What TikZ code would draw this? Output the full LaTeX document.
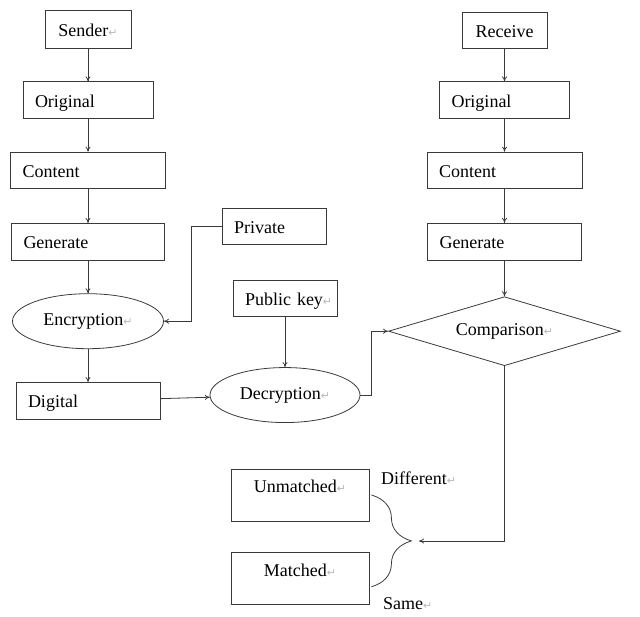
\documentclass[tikz,border=0pt]{standalone}
\usepackage{fontspec}
\setmainfont{Liberation Serif}
\newfontfamily\markfont{DejaVu Sans}
\usetikzlibrary{arrows.meta,positioning,shapes.geometric,decorations.pathreplacing}
\definecolor{ink}{HTML}{3A3A3A}
\newcommand{\pmark}{{\markfont\fontsize{11}{11}\selectfont\color{gray!55}↵}}

\begin{document}
\begin{tikzpicture}[x=1pt, y=1pt,
    font=\fontsize{18}{21}\selectfont,
    box/.style={draw=ink, line width=0.8pt, minimum height=36.5pt, inner xsep=12pt, inner ysep=0pt, text height=14pt, text depth=0pt, align=left},
    oval/.style={draw=ink, line width=0.8pt, ellipse, minimum width=151pt, minimum height=55pt, inner sep=0pt},
    lbl/.style={inner sep=0pt, anchor=west},
    arrow/.style={-{To[length=5pt,width=5pt]}, line width=0.8pt, color=ink},
    brace/.style={decorate, decoration={brace, amplitude=40pt}, line width=0.8pt, color=ink}
]
    \useasboundingbox (0,0) rectangle (640,-616);

    \node[box, minimum width=86pt, minimum height=38pt, inner xsep=4pt, align=center] (snd) at (88,-29) {Sender\pmark};
    \node[box, text width=106pt, below=33pt of snd] (org) {Original};
    \node[box, text width=131pt, below=33pt of org] (cnt) {Content};
    \node[box, text width=129pt, below=34pt of cnt] (gen) {Generate};
    \node[oval, below=33pt of gen] (enc) {Encryption\pmark};
    \node[box, text width=120pt, below=33pt of enc] (dig) {Digital};

    \node[box, text width=80pt] (prv) at (274,-226.5) {Private};
    \node[box, text width=80pt] (pub) at (285,-298.5) {Public~key\pmark};
    \node[oval, minimum width=150pt, below=50pt of pub] (dec) {Decryption\pmark};

    \node[box, minimum width=85pt, minimum height=36pt, inner xsep=4pt, align=center] (rcv) at (504.5,-30) {Receive};
    \node[box, text width=106pt, below=33pt of rcv] (org2) {Original};
    \node[box, text width=131pt, below=33pt of org2] (cnt2) {Content};
    \node[box, text width=130pt, below=34pt of cnt2] (gen2) {Generate};
    \node[draw=ink, line width=0.8pt, diamond, aspect=3.36, minimum width=232pt, minimum height=69pt, inner sep=0pt, below=36pt of gen2] (cmp) {Comparison\pmark};

    \node[box, text width=114pt, align=center, minimum height=52pt, text depth=20pt] (um) at (300,-495) {Unmatched\pmark};
    \node[box, text width=114pt, align=center, minimum height=52pt, text depth=19pt, below=31pt of um] (mt) {Matched\pmark};
    \node[lbl] (dif) at (381,-478) {Different\pmark};
    \node[lbl] (sam) at (383,-604) {Same\pmark};
    \coordinate (tip) at (419,-541);

    \draw[arrow] (snd) -- (org);
    \draw[arrow] (org) -- (cnt);
    \draw[arrow] (cnt) -- (gen);
    \draw[arrow] (gen) -- (enc);
    \draw[arrow] (enc) -- (dig);
    \draw[arrow] (prv.west) -- ++(-30pt,0) |- (enc.east);
    \draw[arrow] (pub) -- (dec);
    \draw[arrow] (dig) -- (dec);
    \draw[arrow] (dec.east) -- ++(11pt,0) |- (cmp.west);

    \draw[arrow] (rcv) -- (org2);
    \draw[arrow] (org2) -- (cnt2);
    \draw[arrow] (cnt2) -- (gen2);
    \draw[arrow] (gen2) -- (cmp);
    \draw[arrow] (cmp.south) |- (tip);
    \draw[brace] ([xshift=2pt]um.east) -- ([shift={(2pt,-8pt)}]mt.east);
\end{tikzpicture}
\end{document}
